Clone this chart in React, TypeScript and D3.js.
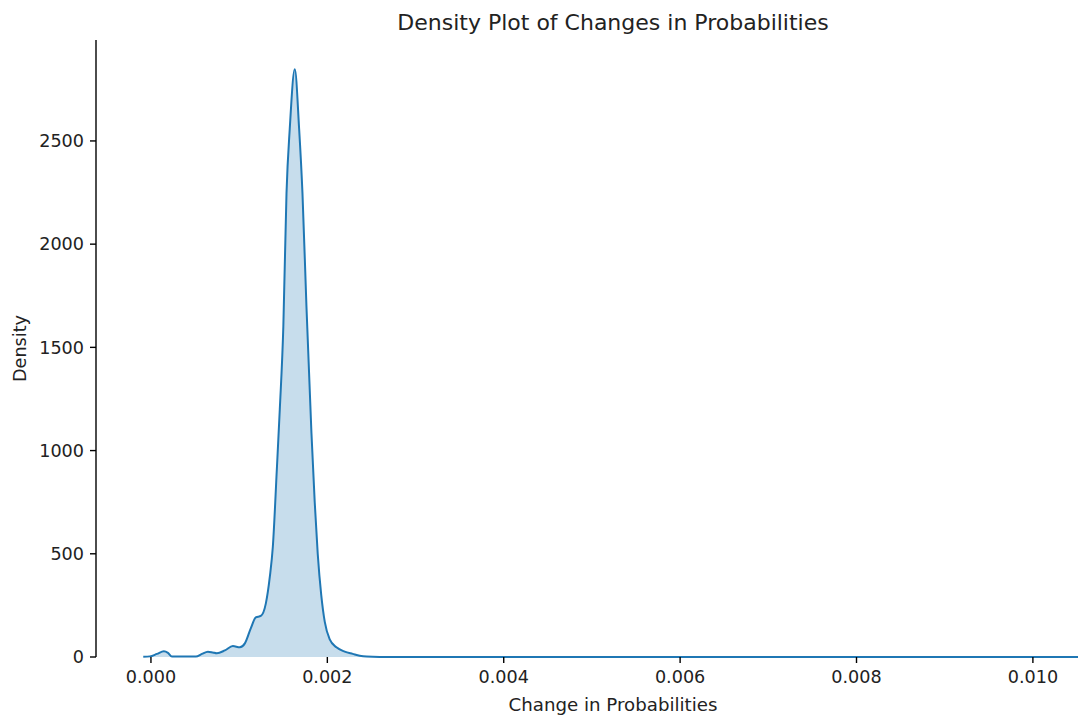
import React from "react";
import { scaleLinear, area, line, curveMonotoneX, format } from "d3";

// estimated KDE curve
const changeValues = [
  -0.000087, -0.000011, 0.000068, 0.000147, 0.000193, 0.000238, 0.00051, 0.000578,
  0.000646, 0.000702, 0.000747, 0.000838, 0.000929, 0.001008, 0.001065, 0.001133,
  0.001189, 0.001246, 0.001303, 0.001348, 0.001382, 0.001427, 0.001461, 0.001501,
  0.001537, 0.001574, 0.001631, 0.00168, 0.001718, 0.001763, 0.00182, 0.001857,
  0.001891, 0.001931, 0.001971, 0.002027, 0.002103, 0.002197, 0.002288, 0.002367,
  0.002446, 0.002593, 0.003, 0.010555,
];
const densityValues = [
  1, 3, 15, 28, 20, 2, 2, 15,
  26, 22, 18, 32, 53, 47, 66, 140,
  192, 199, 260, 389, 534, 906, 1200, 1600,
  2247, 2560, 2847, 2560, 2247, 1700, 1084, 750,
  500, 300, 170, 85, 47, 26, 15, 6,
  2, 0.5, 0, 0,
];

const xTicks = [0, 0.002, 0.004, 0.006, 0.008, 0.01];
const yTicks = [0, 500, 1000, 1500, 2000, 2500];

const title = "Density Plot of Changes in Probabilities";
const xLabel = "Change in Probabilities";
const yLabel = "Density";

const App = () => {
  const width = 1078;
  const height = 718;
  const left = 96;
  const right = 1130;
  const top = 40;
  const bottom = 657;
  const font = "DejaVu Sans, sans-serif";
  const tickSize = 17.6;

  const x = scaleLinear().domain([-0.000623, 0.011101]).range([left, right]);
  const y = scaleLinear().domain([0, 2989]).range([bottom, top]);

  const pts = changeValues.map((v, i) => [v, densityValues[i]] as [number, number]);
  const areaGen = area<[number, number]>()
    .x((d) => x(d[0]))
    .y0(y(0))
    .y1((d) => y(d[1]))
    .curve(curveMonotoneX);
  const lineGen = line<[number, number]>()
    .x((d) => x(d[0]))
    .y((d) => y(d[1]))
    .curve(curveMonotoneX);
  const fmt = format(".3f");

  return (
    <svg
      width={width}
      height={height}
      style={{ position: "absolute", left: 0, top: 0, background: "#fff" }}
      fontFamily={font}
    >
      <path d={areaGen(pts) || ""} fill="#1f77b4" fillOpacity={0.25} />
      <path d={lineGen(pts) || ""} fill="none" stroke="#1f77b4" strokeWidth={2} strokeLinejoin="round" />

      {/* left spine */}
      <line x1={left} x2={left} y1={top} y2={bottom} stroke="#000" strokeWidth={1.4} />

      {yTicks.map((t) => (
        <g key={t}>
          <line x1={left - 6} x2={left} y1={y(t)} y2={y(t)} stroke="#000" strokeWidth={1.4} />
          <text x={left - 12} y={y(t)} dy="0.36em" textAnchor="end" fontSize={tickSize} fill="#222">
            {t}
          </text>
        </g>
      ))}
      {xTicks.map((t) => (
        <g key={t}>
          <line x1={x(t)} x2={x(t)} y1={bottom} y2={bottom + 6} stroke="#000" strokeWidth={1.4} />
          <text x={x(t)} y={bottom + 26} textAnchor="middle" fontSize={tickSize} fill="#222">
            {fmt(t)}
          </text>
        </g>
      ))}

      <text x={(left + right) / 2} y={30} textAnchor="middle" fontSize={22} fill="#222">
        {title}
      </text>
      <text x={(left + right) / 2} y={711} textAnchor="middle" fontSize={18.2} fill="#222">
        {xLabel}
      </text>
      <text
        transform={`translate(26,${(top + bottom) / 2}) rotate(-90)`}
        textAnchor="middle"
        fontSize={tickSize}
        fill="#222"
      >
        {yLabel}
      </text>
    </svg>
  );
};

export default App;
